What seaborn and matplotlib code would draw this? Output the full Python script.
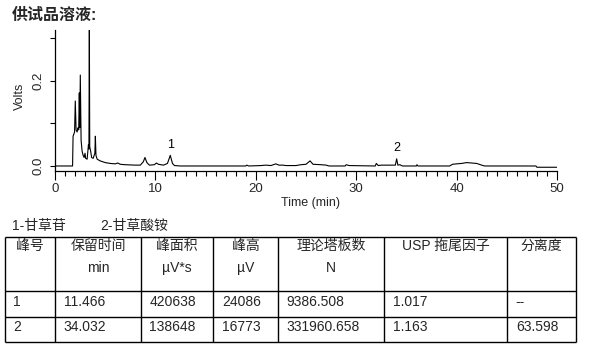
import matplotlib
matplotlib.use("Agg")
import matplotlib.pyplot as plt
import seaborn as sns
import pandas as pd
from matplotlib.ticker import MultipleLocator

# ---------------- data ----------------
times = [0, 1.75, 1.8, 1.95, 2.02, 2.1, 2.2, 2.3, 2.36, 2.42, 2.47, 2.52, 2.6, 2.7,
         2.8, 2.9, 2.99, 3.05, 3.2, 3.33, 3.38, 3.42, 3.46, 3.55, 3.65, 3.8, 3.9,
         3.97, 4.02, 4.08, 4.2, 4.5, 5.0, 5.5, 6.0, 6.25, 6.5, 7.0, 8.0, 8.5, 8.8,
         8.96, 9.15, 9.4, 9.9, 10.1, 10.3, 10.8, 11.2, 11.48, 11.7, 11.9, 12.5,
         19.0, 19.1, 19.3, 20.5, 21.0, 21.5, 22.0, 22.3, 22.7, 23.0, 24.0, 24.5,
         25.0, 25.4, 25.7, 26.5, 27.0, 27.3, 28.9, 29.0, 29.3, 31.9, 32.0, 32.2,
         32.5, 33.9, 34.03, 34.15, 34.35, 34.6, 36.0, 36.05, 36.15, 39.3, 39.6,
         40.0, 40.5, 41.0, 41.5, 42.0, 42.5, 42.8, 47.9, 48.0, 50.0]
volts = [0, 0, 0.07, 0.08, 0.153, 0.085, 0.08, 0.09, 0.085, 0.172, 0.09, 0.214, 0.06, 0.035,
         0.025, 0.02, 0.03, 0.018, 0.016, 0.05, 0.04, 0.33, 0.045, 0.035, 0.02, 0.018, 0.025,
         0.03, 0.07, 0.025, 0.016, 0.012, 0.008, 0.006, 0.005, 0.007, 0.004, 0.003, 0.002, 0.002, 0.01,
         0.02, 0.008, 0.002, 0.003, 0.007, 0.004, 0.002, 0.006, 0.025, 0.006, 0.001, 0.0,
         0.0, 0.002, 0.0, 0.001, 0.002, 0.001, 0.005, 0.002, 0.002, 0.001, 0.001, 0.003,
         0.004, 0.012, 0.004, 0.003, 0.002, 0.0, 0.0, 0.003, 0.001, 0.0, 0.006, 0.001,
         0.002, 0.002, 0.0168, 0.002, 0.003, 0.0, 0.0, 0.003, 0.0, 0.0, 0.004,
         0.005, 0.006, 0.008, 0.007, 0.006, 0.002, 0.0, 0.0, -0.003, -0.003]

peak_labels = ["1", "2"]
peak_times = [11.466, 34.032]
peak_label_y = [0.049, 0.042]

title_text = "供试品溶液:"
legend_items = ["1-甘草苷", "2-甘草酸铵"]

col_headers = ["峰号", "保留时间", "峰面积", "峰高", "理论塔板数", "USP 拖尾因子", "分离度"]
col_units = ["", "min", "µV*s", "µV", "N", "", ""]
peak_no = ["1", "2"]
ret_time = ["11.466", "34.032"]
peak_area = ["420638", "138648"]
peak_height = ["24086", "16773"]
plates = ["9386.508", "331960.658"]
tailing = ["1.017", "1.163"]
resolution = ["--", "63.598"]

# ---------------- style ----------------
sns.set_style("white")
plt.rcParams["font.family"] = ["Liberation Sans", "Noto Sans CJK SC"]

W, H = 593, 353
fig = plt.figure(figsize=(W / 100, H / 100), dpi=100)

# table / annotations overlay in pixel coordinates
tab = fig.add_axes([0, 0, 1, 1])
tab.set_xlim(0, W)
tab.set_ylim(H, 0)
tab.axis("off")

# chromatogram axes
x0, x1, ytop, ybot = 55, 557, 30, 171
ax = fig.add_axes([x0 / W, 1 - ybot / H, (x1 - x0) / W, (ybot - ytop) / H])
df = pd.DataFrame({"Time (min)": times, "Volts": volts})
sns.lineplot(data=df, x="Time (min)", y="Volts", ax=ax, color="black",
             linewidth=0.8, estimator=None, sort=False)
ax.set_xlim(0, 50)
ax.set_ylim(-0.0118, 0.32)
ax.patch.set_alpha(0)
for s in ["top", "right"]:
    ax.spines[s].set_visible(False)
for s in ["left", "bottom"]:
    ax.spines[s].set_linewidth(0.9)
    ax.spines[s].set_color("black")

ax.set_xticks([0, 10, 20, 30, 40, 50])
ax.set_xticklabels(["0", "10", "20", "30", "40", "50"])
ax.xaxis.set_minor_locator(MultipleLocator(1))
ax.tick_params(axis="x", which="major", length=6.5, width=0.8, pad=2,
               labelsize=9.5, direction="out", bottom=True, color="black")
ax.tick_params(axis="x", which="minor", length=3.3, width=0.8, direction="out",
               bottom=True, color="black")
ax.set_yticks([0, 0.1, 0.2, 0.3])
ax.set_yticklabels(["0.0", "", "0.2", ""], rotation=90, va="center")
ax.tick_params(axis="y", which="major", length=3.6, width=0.8, pad=4,
               labelsize=9.5, direction="out", left=True, color="black")

ax.set_xlabel("Time (min)", fontsize=9)
ax.xaxis.set_label_coords(0.508, -0.185)
ax.set_ylabel("Volts", fontsize=9)
ax.yaxis.set_label_coords(-0.057, 0.53)

for lab, t, yv in zip(peak_labels, peak_times, peak_label_y):
    ax.text(t, yv, lab, ha="center", va="center", fontsize=9, color="black")

# title
tab.text(12, 15, title_text, fontsize=11.5, fontweight="bold", ha="left", va="center")

# legend text
tab.text(12, 226, legend_items[0], fontsize=10, ha="left", va="center")
tab.text(100, 226, legend_items[1], fontsize=10, ha="left", va="center")

# table grid
col_edges = [4.5, 55.3, 140.7, 213.3, 277.7, 384.3, 507.3, 576]
row_edges = [236.7, 290.7, 316.7, 342.3]
tab.hlines(row_edges, col_edges[0], col_edges[-1], colors="black", linewidth=1.0)
tab.vlines(col_edges, row_edges[0], row_edges[-1], colors="black", linewidth=1.0)

for i, (h, u) in enumerate(zip(col_headers, col_units)):
    cx = (col_edges[i] + col_edges[i + 1]) / 2
    tab.text(cx, 246, h, fontsize=10, ha="center", va="center")
    if u:
        tab.text(cx, 268, u, fontsize=10, ha="center", va="center")

rows = list(zip(peak_no, ret_time, peak_area, peak_height, plates, tailing, resolution))
row_centers = [302, 327]
for r, vals in enumerate(rows):
    for i, v in enumerate(vals):
        tab.text(col_edges[i] + 8.5, row_centers[r], v, fontsize=10, ha="left", va="center")

fig.savefig("out.png", dpi=100)
